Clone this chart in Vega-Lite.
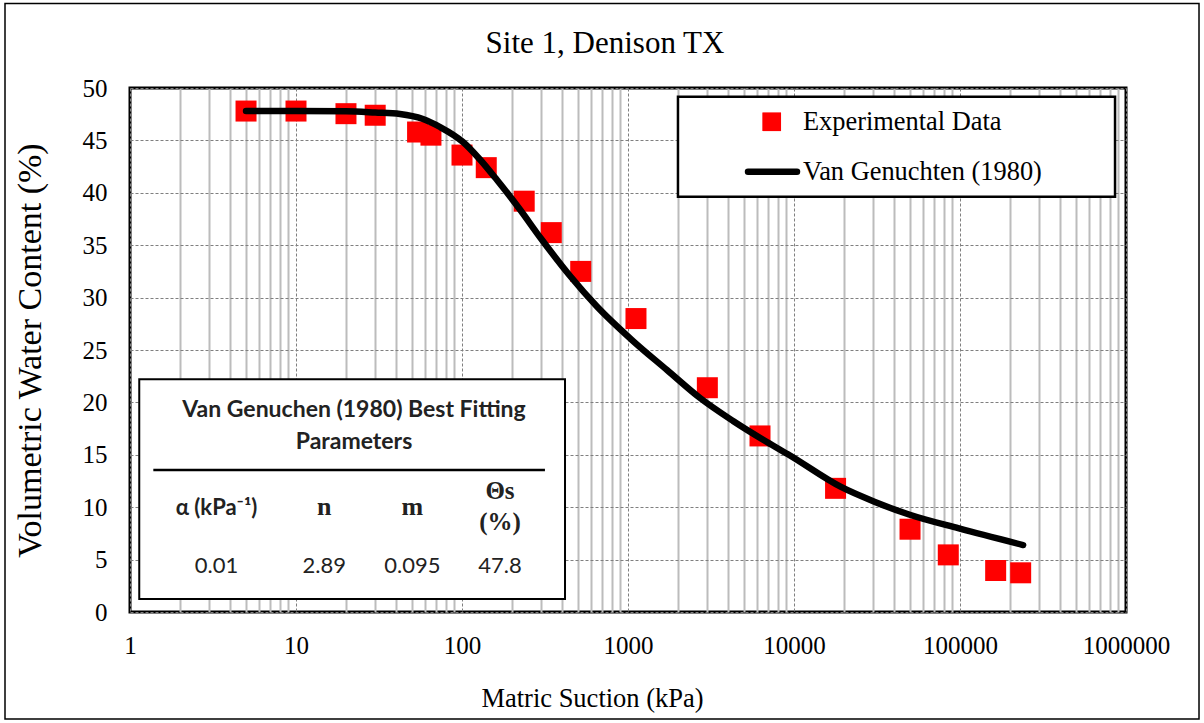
{
  "$schema": "https://vega.github.io/schema/vega-lite/v6.json",
  "width": 996,
  "height": 524,
  "autosize": {"type": "none"},
  "padding": {"left": 130, "top": 88, "right": 78, "bottom": 111},
  "background": "white",
  "title": {
    "text": "Site 1, Denison TX",
    "font": "Liberation Serif",
    "fontSize": 31,
    "fontWeight": "normal",
    "color": "#000",
    "anchor": "middle",
    "frame": "group",
    "dx": -23,
    "offset": -57
  },
  "datasets": {
    "experimental": [
      {"suction": 5, "theta": 47.8},
      {"suction": 10, "theta": 47.8},
      {"suction": 20, "theta": 47.55},
      {"suction": 30, "theta": 47.4},
      {"suction": 54, "theta": 45.8},
      {"suction": 65, "theta": 45.5},
      {"suction": 100, "theta": 43.6},
      {"suction": 140, "theta": 42.4},
      {"suction": 237, "theta": 39.2},
      {"suction": 345, "theta": 36.2},
      {"suction": 519, "theta": 32.5},
      {"suction": 1117, "theta": 28.0},
      {"suction": 3006, "theta": 21.4},
      {"suction": 6240, "theta": 16.8},
      {"suction": 17800, "theta": 11.8},
      {"suction": 50000, "theta": 7.9},
      {"suction": 85000, "theta": 5.45},
      {"suction": 164000, "theta": 3.96},
      {"suction": 232000, "theta": 3.74}
    ],
    "vg": [
      {"suction": 5, "theta": 47.8},
      {"suction": 10, "theta": 47.8},
      {"suction": 20, "theta": 47.78},
      {"suction": 30, "theta": 47.66},
      {"suction": 42.3, "theta": 47.52},
      {"suction": 58.2, "theta": 47.04},
      {"suction": 73.7, "theta": 46.28},
      {"suction": 101.4, "theta": 44.85},
      {"suction": 128.3, "theta": 43.18},
      {"suction": 162.5, "theta": 41.22},
      {"suction": 220, "theta": 38.55},
      {"suction": 299, "theta": 35.64},
      {"suction": 448, "theta": 32.06},
      {"suction": 650, "theta": 29.15},
      {"suction": 1057, "theta": 25.95},
      {"suction": 1718, "theta": 23.09},
      {"suction": 2716, "theta": 20.42},
      {"suction": 4295, "theta": 18.23},
      {"suction": 6870, "theta": 16.22},
      {"suction": 9460, "theta": 14.93},
      {"suction": 19190, "theta": 11.93},
      {"suction": 30760, "theta": 10.5},
      {"suction": 49300, "theta": 9.3},
      {"suction": 98600, "theta": 7.97},
      {"suction": 240000, "theta": 6.39}
    ],
    "params": [
      {"param": "alpha", "header": "α (kPa⁻¹)", "value": "0.01"},
      {"param": "n", "header": "n", "value": "2.89"},
      {"param": "m", "header": "m", "value": "0.095"},
      {"param": "thetas", "header": ["Θs", "(%)"], "value": "47.8"}
    ]
  },
  "layer": [
    {
      "data": {"values": [{}]},
      "mark": {"type": "rect", "fill": null, "fillOpacity": 0, "stroke": "#000", "strokeWidth": 1.5},
      "encoding": {
        "x": {"datum": 0.1766, "type": "quantitative"},
        "x2": {"datum": 2753000},
        "y": {"datum": 58.06, "type": "quantitative"},
        "y2": {"datum": -10.21}
      }
    },
    {
      "data": {"values": [{}]},
      "mark": {"type": "rect", "fill": "white", "stroke": "#000", "strokeWidth": 2},
      "encoding": {
        "x": {"datum": 1.137, "type": "quantitative"},
        "x2": {"datum": 417.4},
        "y": {"datum": 22.2, "type": "quantitative"},
        "y2": {"datum": 1.24}
      }
    },
    {
      "data": {"values": [{}]},
      "mark": {"type": "rect", "fill": "white", "stroke": "#000", "strokeWidth": 2.5},
      "encoding": {
        "x": {"datum": 2000, "type": "quantitative"},
        "x2": {"datum": 859000},
        "y": {"datum": 49.17, "type": "quantitative"},
        "y2": {"datum": 39.63}
      }
    },
    {
      "data": {"name": "experimental"},
      "mark": {"type": "point", "shape": "square", "filled": true, "color": "#ff0000", "opacity": 1, "size": 441},
      "encoding": {
        "x": {
          "field": "suction",
          "type": "quantitative",
          "scale": {"type": "log", "domain": [1, 1000000]},
          "axis": {
            "title": "Matric Suction (kPa)",
            "values": [1,2,3,4,5,6,7,8,9,10,20,30,40,50,60,70,80,90,100,200,300,400,500,600,700,800,900,1000,2000,3000,4000,5000,6000,7000,8000,9000,10000,20000,30000,40000,50000,60000,70000,80000,90000,100000,200000,300000,400000,500000,600000,700000,800000,900000,1000000],
            "format": "d",
            "labelExpr": "indexof(['1','10','100','1000','10000','100000','1000000'], datum.label) >= 0 ? datum.label : ''",
            "labelFlush": false,
            "labelOverlap": false,
            "labelBound": false,
            "labelFont": "Liberation Serif",
            "labelFontSize": 25,
            "labelColor": "#000",
            "labelPadding": 21,
            "ticks": false,
            "tickSize": 0,
            "domain": false,
            "grid": true,
            "gridColor": {"condition": {"test": "indexof([1,10,100,1000,10000,100000,1000000], datum.value) >= 0", "value": "#7f7f7f"}, "value": "#bcbcbc"},
            "gridDash": {"condition": {"test": "indexof([1,10,100,1000,10000,100000,1000000], datum.value) >= 0", "value": [3, 2]}, "value": []},
            "gridWidth": {"condition": {"test": "indexof([1,10,100,1000,10000,100000,1000000], datum.value) >= 0", "value": 1}, "value": 2},
            "titleFont": "Liberation Serif",
            "titleFontSize": 26.5,
            "titleFontWeight": "normal",
            "titleColor": "#000",
            "titleX": 462,
            "titleY": 94,
            "titleAlign": "center",
            "titleBaseline": "alphabetic"
          }
        },
        "y": {
          "field": "theta",
          "type": "quantitative",
          "scale": {"domain": [0, 50], "nice": false},
          "axis": {
            "title": "Volumetric Water Content (%)",
            "values": [0,2.5,5,7.5,10,12.5,15,17.5,20,22.5,25,27.5,30,32.5,35,37.5,40,42.5,45,47.5,50],
            "labelExpr": "datum.value % 5 === 0 ? datum.label : ''",
            "labelFlush": false,
            "labelOverlap": false,
            "labelFont": "Liberation Serif",
            "labelFontSize": 25,
            "labelColor": "#000",
            "labelPadding": 23,
            "ticks": false,
            "tickSize": 0,
            "domain": false,
            "grid": true,
            "gridColor": {"condition": {"test": "datum.value % 5 === 0", "value": "#7f7f7f"}, "value": "#d0d0d0"},
            "gridDash": {"condition": {"test": "datum.value % 5 === 0", "value": [3, 2]}, "value": []},
            "gridWidth": {"condition": {"test": "datum.value % 5 === 0", "value": 1}, "value": 1.5},
            "titleFont": "Liberation Serif",
            "titleFontSize": 34,
            "titleFontWeight": "normal",
            "titleColor": "#000",
            "titleX": -90,
            "titleY": 262,
            "titleAngle": 270,
            "titleAlign": "center",
            "titleBaseline": "alphabetic"
          }
        }
      }
    },
    {
      "data": {"name": "vg"},
      "mark": {"type": "line", "color": "#000", "strokeWidth": 6.5, "strokeCap": "round", "strokeJoin": "round", "interpolate": "monotone"},
      "encoding": {
        "x": {"field": "suction", "type": "quantitative"},
        "y": {"field": "theta", "type": "quantitative"}
      }
    },
    {
      "data": {"values": [{}]},
      "mark": {"type": "rule", "color": "#000", "strokeWidth": 2.5},
      "encoding": {
        "x": {"datum": 1.382, "type": "quantitative"},
        "x2": {"datum": 316},
        "y": {"datum": 13.55, "type": "quantitative"}
      }
    },
    {
      "data": {"values": [{}]},
      "mark": {"type": "text", "font": "Lato", "fontWeight": "bold", "fontSize": 23, "color": "#222", "align": "center", "baseline": "top", "lineHeight": 31.7},
      "encoding": {
        "x": {"datum": 22.36, "type": "quantitative"},
        "y": {"datum": 20.3, "type": "quantitative"},
        "text": {"value": ["Van Genuchen (1980) Best Fitting", "Parameters"]}
      }
    },
    {
      "data": {"name": "params"},
      "transform": [{"filter": "datum.param === 'alpha'"}],
      "mark": {"type": "text", "font": "Lato", "fontWeight": "bold", "fontSize": 22, "color": "#222", "align": "center", "baseline": "alphabetic"},
      "encoding": {
        "x": {"datum": 3.32, "type": "quantitative"},
        "y": {"datum": 9.26, "type": "quantitative"},
        "text": {"field": "header", "type": "nominal"}
      }
    },
    {
      "data": {"name": "params"},
      "transform": [{"filter": "datum.param === 'n'"}],
      "mark": {"type": "text", "font": "Liberation Serif", "fontWeight": "bold", "fontSize": 26, "color": "#222", "align": "center", "baseline": "alphabetic"},
      "encoding": {
        "x": {"datum": 14.81, "type": "quantitative"},
        "y": {"datum": 9.26, "type": "quantitative"},
        "text": {"field": "header", "type": "nominal"}
      }
    },
    {
      "data": {"name": "params"},
      "transform": [{"filter": "datum.param === 'm'"}],
      "mark": {"type": "text", "font": "Liberation Serif", "fontWeight": "bold", "fontSize": 26, "color": "#222", "align": "center", "baseline": "alphabetic"},
      "encoding": {
        "x": {"datum": 50.2, "type": "quantitative"},
        "y": {"datum": 9.26, "type": "quantitative"},
        "text": {"field": "header", "type": "nominal"}
      }
    },
    {
      "data": {"name": "params"},
      "transform": [{"filter": "datum.param === 'thetas'"}],
      "mark": {"type": "text", "font": "Liberation Serif", "fontWeight": "bold", "fontSize": 25, "color": "#222", "align": "center", "baseline": "top", "lineHeight": 31},
      "encoding": {
        "x": {"datum": 169.4, "type": "quantitative"},
        "y": {"datum": 12.73, "type": "quantitative"},
        "text": {"field": "header", "type": "nominal"}
      }
    },
    {
      "data": {"name": "params"},
      "transform": [{"filter": "datum.param === 'alpha'"}],
      "mark": {"type": "text", "font": "Lato", "fontSize": 22, "color": "#222", "align": "center", "baseline": "alphabetic"},
      "encoding": {
        "x": {"datum": 3.32, "type": "quantitative"},
        "y": {"datum": 3.69, "type": "quantitative"},
        "text": {"field": "value", "type": "nominal"}
      }
    },
    {
      "data": {"name": "params"},
      "transform": [{"filter": "datum.param === 'n'"}],
      "mark": {"type": "text", "font": "Lato", "fontSize": 22, "color": "#222", "align": "center", "baseline": "alphabetic"},
      "encoding": {
        "x": {"datum": 14.81, "type": "quantitative"},
        "y": {"datum": 3.69, "type": "quantitative"},
        "text": {"field": "value", "type": "nominal"}
      }
    },
    {
      "data": {"name": "params"},
      "transform": [{"filter": "datum.param === 'm'"}],
      "mark": {"type": "text", "font": "Lato", "fontSize": 22, "color": "#222", "align": "center", "baseline": "alphabetic"},
      "encoding": {
        "x": {"datum": 50.2, "type": "quantitative"},
        "y": {"datum": 3.69, "type": "quantitative"},
        "text": {"field": "value", "type": "nominal"}
      }
    },
    {
      "data": {"name": "params"},
      "transform": [{"filter": "datum.param === 'thetas'"}],
      "mark": {"type": "text", "font": "Lato", "fontSize": 22, "color": "#222", "align": "center", "baseline": "alphabetic"},
      "encoding": {
        "x": {"datum": 169.4, "type": "quantitative"},
        "y": {"datum": 3.69, "type": "quantitative"},
        "text": {"field": "value", "type": "nominal"}
      }
    },
    {
      "data": {"values": [{}]},
      "mark": {"type": "point", "shape": "square", "filled": true, "color": "#ff0000", "opacity": 1, "size": 350},
      "encoding": {
        "x": {"datum": 7339, "type": "quantitative"},
        "y": {"datum": 46.78, "type": "quantitative"}
      }
    },
    {
      "data": {"values": [{}]},
      "mark": {"type": "rule", "color": "#000", "strokeWidth": 6.5, "strokeCap": "round"},
      "encoding": {
        "x": {"datum": 5284, "type": "quantitative"},
        "x2": {"datum": 10425},
        "y": {"datum": 42.01, "type": "quantitative"}
      }
    },
    {
      "data": {"values": [{}]},
      "mark": {"type": "text", "font": "Liberation Serif", "fontSize": 26.4, "color": "#000", "align": "left", "baseline": "alphabetic"},
      "encoding": {
        "x": {"datum": 11330, "type": "quantitative"},
        "y": {"datum": 46.01, "type": "quantitative"},
        "text": {"value": "Experimental Data"}
      }
    },
    {
      "data": {"values": [{}]},
      "mark": {"type": "text", "font": "Liberation Serif", "fontSize": 26.4, "color": "#000", "align": "left", "baseline": "alphabetic"},
      "encoding": {
        "x": {"datum": 11330, "type": "quantitative"},
        "y": {"datum": 41.22, "type": "quantitative"},
        "text": {"value": "Van Genuchten (1980)"}
      }
    }
  ],
  "config": {
    "view": {"stroke": "#000", "strokeWidth": 3},
    "font": "Liberation Serif"
  }
}
